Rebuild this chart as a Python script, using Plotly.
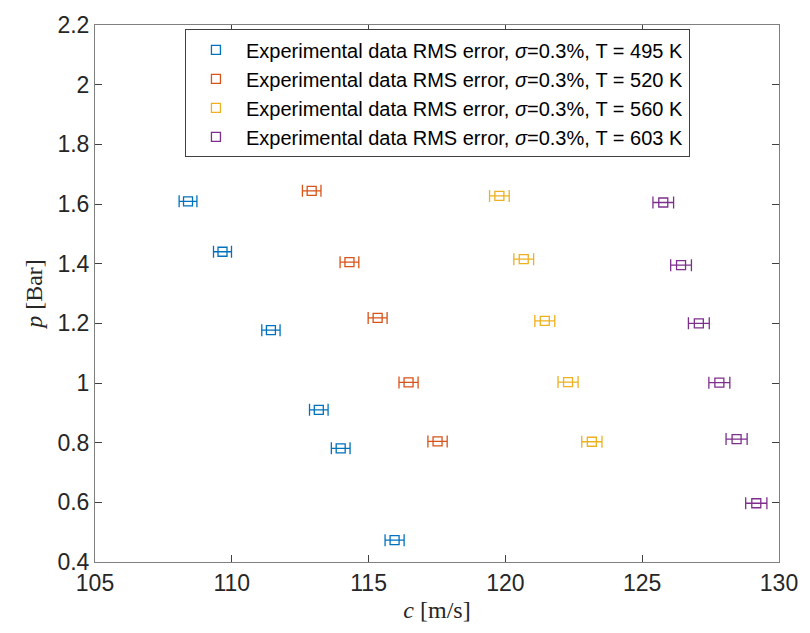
import plotly.graph_objects as go

# Data (speed of sound c [m/s], pressure p [Bar])
c_495 = [108.40, 109.66, 111.43, 113.18, 113.98, 115.95]
p_495 = [1.609, 1.440, 1.177, 0.910, 0.781, 0.473]
c_520 = [112.92, 114.30, 115.33, 116.46, 117.52]
p_520 = [1.644, 1.405, 1.218, 1.002, 0.804]
c_560 = [119.78, 120.67, 121.44, 122.29, 123.16]
p_560 = [1.627, 1.415, 1.208, 1.003, 0.803]
c_603 = [125.77, 126.42, 127.07, 127.82, 128.45, 129.17]
p_603 = [1.605, 1.395, 1.200, 1.001, 0.812, 0.597]
sigma_percent = 0.3

temps = ["495", "520", "560", "603"]
colors = ["#0072BD", "#D95319", "#EDB120", "#7E2F8E"]

x_ticks = [105, 110, 115, 120, 125, 130]
y_ticks = [0.4, 0.6, 0.8, 1.0, 1.2, 1.4, 1.6, 1.8, 2.0, 2.2]
y_tick_labels = ["0.4", "0.6", "0.8", "1", "1.2", "1.4", "1.6", "1.8", "2", "2.2"]

series = [(c_495, p_495), (c_520, p_520), (c_560, p_560), (c_603, p_603)]

fig = go.Figure()
for (cx, py), T, col in zip(series, temps, colors):
    fig.add_trace(go.Scatter(
        x=cx, y=py, mode="markers",
        name=f"Experimental data RMS error, <i>σ</i>=0.3%, T = {T} K",
        marker=dict(symbol="square-open", size=9, color=col, line=dict(width=1.3, color=col)),
        error_x=dict(type="percent", value=sigma_percent, color=col, thickness=1.3, width=6),
    ))

axis_common = dict(
    showline=True, linecolor="#808080", linewidth=1, mirror="ticks",
    ticks="inside", ticklen=7, tickcolor="#404040", tickwidth=1,
    showgrid=False, zeroline=False,
    tickfont=dict(family="Liberation Sans, Arial", size=23, color="#262626"),
)

fig.update_xaxes(
    range=[105, 130], tickvals=x_ticks, ticktext=[str(v) for v in x_ticks],
    title=dict(text="<i>c</i> [m/s]", font=dict(family="Liberation Serif, Times New Roman", size=24, color="#262626"), standoff=6),
    **axis_common,
)
fig.update_yaxes(
    range=[0.4, 2.2], tickvals=y_ticks, ticktext=y_tick_labels,
    title=dict(text="<i>p</i> [Bar]", font=dict(family="Liberation Serif, Times New Roman", size=24, color="#262626"), standoff=8),
    **axis_common,
)

fig.update_layout(
    width=810, height=633,
    margin=dict(l=95, r=23, t=19, b=71),
    plot_bgcolor="white", paper_bgcolor="white",
    showlegend=True,
    legend=dict(
        x=0.1315, y=0.992, xanchor="left", yanchor="top",
        bgcolor="white", bordercolor="#404040", borderwidth=1,
        font=dict(family="Liberation Sans, Arial", size=20, color="#000000"),
        itemwidth=50,
    ),
)

fig.write_html("out.html")
